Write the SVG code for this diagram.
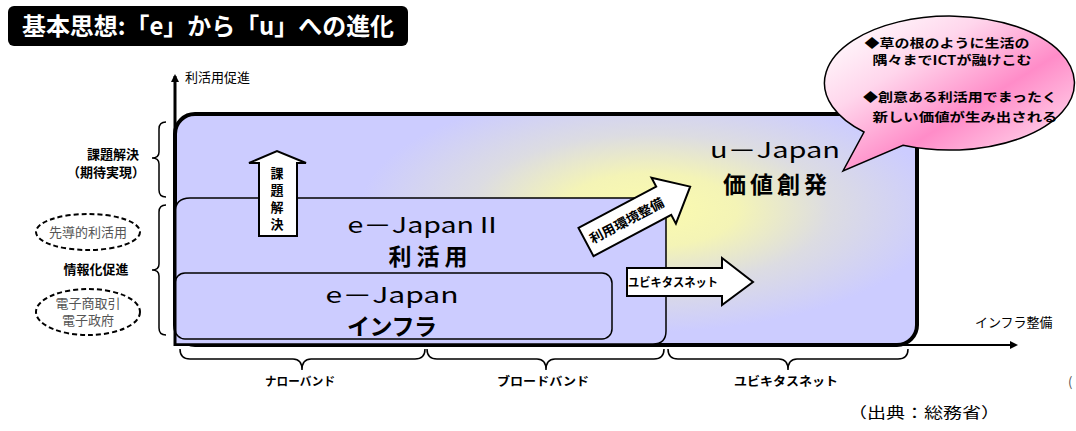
<svg xmlns="http://www.w3.org/2000/svg" width="1076" height="431" viewBox="0 0 1076 431">
<style>
text{font-family:"Noto Sans CJK JP","Noto Sans",sans-serif;fill:#000}
.b{font-weight:bold}
.lat{font-size:22px}
.jp{font-size:23px;font-weight:bold}
.lbl{font-size:13px;font-weight:bold}
.bub{font-size:12.5px;font-weight:bold}
.sm{font-size:12px;font-weight:bold}
.grey{fill:#555;font-size:13px}
.brace{fill:none;stroke:#000;stroke-width:1.5}
.dash{fill:#fff;stroke:#000;stroke-width:2;stroke-dasharray:5 3}
.barrow{fill:#fff;stroke:#000;stroke-width:2}
</style>
<defs>
<radialGradient id="glow" gradientUnits="userSpaceOnUse" cx="650" cy="210" r="290" gradientTransform="translate(650 210) scale(1 0.42) translate(-650 -210)">
<stop offset="0" stop-color="#fbfbae"/>
<stop offset="0.3" stop-color="#f4f4b6"/>
<stop offset="0.62" stop-color="#dcdce2"/>
<stop offset="1" stop-color="#ccccff"/>
</radialGradient>
<linearGradient id="pink" x1="0.05" y1="0.05" x2="0.95" y2="0.95">
<stop offset="0" stop-color="#ffffff"/>
<stop offset="0.3" stop-color="#ffd6ec"/>
<stop offset="0.6" stop-color="#ff8cc8"/>
<stop offset="1" stop-color="#ffe6f3"/>
</linearGradient>
<marker id="ah" markerWidth="8" markerHeight="8" refX="6" refY="4" orient="auto" markerUnits="userSpaceOnUse">
<path d="M0,0 L8,4 L0,8 z" fill="#000"/>
</marker>
</defs>
<rect width="1076" height="431" fill="#fff"/>

<g id="title">
<rect x="8" y="6" width="400" height="40" rx="6" fill="#000"/>
<text x="208" y="35" text-anchor="middle" class="b" font-size="24" style="fill:#fff" textLength="372" lengthAdjust="spacingAndGlyphs">基本思想:「e」から「u」への進化</text>
</g>

<g id="u-japan">
<rect x="175" y="114" width="742" height="231" rx="20" fill="url(#glow)" stroke="#000" stroke-width="4"/>
<text x="775" y="158" class="lat" text-anchor="middle" textLength="130" lengthAdjust="spacingAndGlyphs">u－Japan</text>
<text x="775" y="193" class="jp" font-size="25" text-anchor="middle" textLength="104" lengthAdjust="spacing">価値創発</text>
</g>

<g id="e-japan2">
<path d="M175,344 V213 Q175,198 190,198 H652 Q666,198 666,212 V331 Q666,344 653,344 Z" fill="#ccccff" stroke="#000" stroke-width="1.5"/>
<text x="425" y="233" class="lat" text-anchor="middle" textLength="155" lengthAdjust="spacingAndGlyphs">e－JapanⅡ</text>
<text x="428" y="265" class="jp" text-anchor="middle" textLength="79" lengthAdjust="spacing">利活用</text>
</g>

<g id="e-japan">
<rect x="175" y="273" width="437" height="66" rx="10" fill="#ccccff" stroke="#000" stroke-width="1.5"/>
<text x="392" y="303" class="lat" text-anchor="middle" textLength="133" lengthAdjust="spacingAndGlyphs">e－Japan</text>
<text x="392" y="335" class="jp" text-anchor="middle" textLength="90" lengthAdjust="spacing">インフラ</text>
</g>

<g id="arrow-kadai">
<path d="M259,236 V163 H249 L277,151 L306,163 H297 V236 Z" class="barrow"/>
<text x="277" y="178" class="lbl" text-anchor="middle" font-size="14">課</text>
<text x="277" y="195" class="lbl" text-anchor="middle" font-size="14">題</text>
<text x="277" y="212" class="lbl" text-anchor="middle" font-size="14">解</text>
<text x="277" y="229" class="lbl" text-anchor="middle" font-size="14">決</text>
</g>

<g id="arrow-riyou" transform="translate(586 242) rotate(-28)">
<path d="M0,-16 H88 V-26 L118,0 L88,26 V16 H0 Z" class="barrow"/>
<text x="46" y="5" class="lbl" text-anchor="middle" textLength="82" lengthAdjust="spacingAndGlyphs">利用環境整備</text>
</g>

<g id="arrow-ubiq">
<path d="M627,268 H722 V258 L753,282 L722,305 V296 H627 Z" class="barrow"/>
<text x="673" y="287" class="sm" text-anchor="middle" textLength="90" lengthAdjust="spacingAndGlyphs">ユビキタスネット</text>
</g>

<g id="bubble">
<path d="M864,132 A125,67 0 1 1 903,145.3 L843,171 Z" fill="url(#pink)" stroke="#000" stroke-width="1.5"/>
<text x="947" y="48" class="bub" text-anchor="middle" textLength="165" lengthAdjust="spacingAndGlyphs">◆草の根のように生活の</text>
<text x="952" y="65" class="bub" text-anchor="middle" textLength="159" lengthAdjust="spacingAndGlyphs">隅々までICTが融けこむ</text>
<text x="960" y="102" class="bub" text-anchor="middle" textLength="194" lengthAdjust="spacingAndGlyphs">◆創意ある利活用でまったく</text>
<text x="965" y="122" class="bub" text-anchor="middle" textLength="185" lengthAdjust="spacingAndGlyphs">新しい価値が生み出される</text>
</g>

<g id="connectors">
<line x1="175" y1="346" x2="175" y2="76" stroke="#000" stroke-width="3" marker-end="url(#ah)"/>
<line x1="175" y1="345" x2="1016" y2="345" stroke="#000" stroke-width="2" marker-end="url(#ah)"/>
<path class="brace" d="M166,122 Q159,122 159,129 V152 Q159,158 152,158 Q159,158 159,164 V190 Q159,197 166,197"/>
<path class="brace" d="M166,205 Q159,205 159,212 V264 Q159,270 152,270 Q159,270 159,276 V328 Q159,335 166,335"/>
<path class="brace" d="M180,349 Q180,359 190,359 H293 Q302,359 302,370 Q302,359 311,359 H415 Q425,359 425,349"/>
<path class="brace" d="M427,349 Q427,359 437,359 H537 Q546,359 546,370 Q546,359 555,359 H654 Q664,359 664,349"/>
<path class="brace" d="M668,349 Q668,359 678,359 H779 Q788,359 788,370 Q788,359 797,359 H898 Q908,359 908,349"/>
</g>

<g id="axis-labels">
<text x="185" y="82" font-size="13">利活用促進</text>
<text x="975" y="327" font-size="13">インフラ整備</text>
</g>

<g id="left-labels">
<text x="113" y="159" class="lbl" text-anchor="middle">課題解決</text>
<text x="106" y="177" class="lbl" text-anchor="middle">（期待実現）</text>
<text x="96" y="274" class="lbl" text-anchor="middle">情報化促進</text>
</g>

<g id="sendou">
<ellipse cx="88" cy="232" rx="52" ry="18" class="dash"/>
<text x="88" y="237" class="grey" text-anchor="middle">先導的利活用</text>
</g>

<g id="denshi">
<ellipse cx="88" cy="312" rx="52" ry="23" class="dash"/>
<text x="88" y="308" class="grey" text-anchor="middle">電子商取引</text>
<text x="88" y="325" class="grey" text-anchor="middle">電子政府</text>
</g>

<g id="bottom-labels">
<text x="300" y="386" class="sm" text-anchor="middle" textLength="70" lengthAdjust="spacingAndGlyphs">ナローバンド</text>
<text x="543" y="386" class="sm" text-anchor="middle" textLength="92" lengthAdjust="spacingAndGlyphs">ブロードバンド</text>
<text x="786" y="386" class="sm" text-anchor="middle" textLength="104" lengthAdjust="spacingAndGlyphs">ユビキタスネット</text>
<text x="1068" y="387" font-size="13" style="fill:#555">(</text>
<text x="924" y="418" font-size="15" text-anchor="middle" textLength="152" lengthAdjust="spacingAndGlyphs">（出典：総務省）</text>
</g>
</svg>
